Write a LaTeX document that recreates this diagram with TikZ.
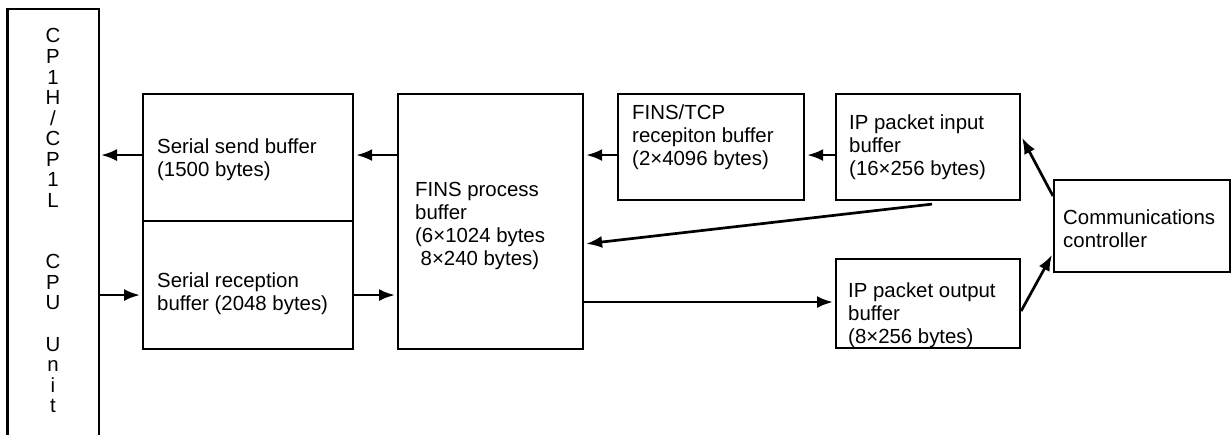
\documentclass[tikz,border=0pt]{standalone}
\usepackage{fontspec}
\setmainfont{Liberation Sans}
\usetikzlibrary{arrows.meta}
\tikzset{
  box/.style={draw, line width=2.1pt, rectangle, inner sep=0pt, anchor=north west},
  txt/.style={anchor=west, inner sep=0pt, align=left, font=\fontsize{20.4}{23}\selectfont},
  arr/.style={line width=2.7pt, -{Latex[length=16pt,width=12pt]}, shorten >=2pt}
}
\begin{document}
\begin{tikzpicture}[x=1pt,y=-1pt]
\useasboundingbox (0,0) rectangle (1231,434);
% CPU unit column (open at the bottom)
\draw[line width=2.1pt] (7.5,440) -- (7.5,9) -- (99,9) -- (99,440);
\coordinate (cpuR) at (99,0);
\node[anchor=north, inner sep=0pt, align=center, font=\fontsize{20.4}{20.54}\selectfont] (cpu) at (53,28.5)
  {C\\P\\1\\H\\/\\C\\P\\1\\L\\[41.1pt]C\\P\\U\\[20.5pt]U\\n\\i\\t};
% boxes
\node[box, minimum width=210pt, minimum height=127pt] (send) at (142,93) {};
\node[box, minimum width=210pt, minimum height=128pt] (recv) at (142,220) {};
\node[box, minimum width=185pt, minimum height=255pt] (fins) at (397,93) {};
\node[box, minimum width=186pt, minimum height=106pt] (fintcp) at (617,93) {};
\node[box, minimum width=184pt, minimum height=106pt] (ipin) at (835,93) {};
\node[box, minimum width=184pt, minimum height=89pt] (ipout) at (835,258) {};
\node[box, minimum width=176pt, minimum height=92pt] (comm) at (1053,179) {};
% texts
\node[txt] (tsend) at (157,160) {Serial send buffer\\(1500 bytes)};
\node[txt] (trecv) at (157,293.5) {Serial reception\\buffer (2048 bytes)};
\node[txt] (tfins) at (415,226.3) {FINS process\\buffer\\(6×1024 bytes\\\hspace*{5.5pt}8×240 bytes)};
\node[txt] (tfintcp) at (632,137) {FINS/TCP\\recepiton buffer\\(2×4096 bytes)};
\node[txt] (tipin) at (849,147.2) {IP packet input\\buffer\\(16×256 bytes)};
\node[txt] (tipout) at (848,314.8) {IP packet output\\buffer\\(8×256 bytes)};
\node[txt] (tcomm) at (1063,229) {Communications\\controller};
% connectors
\draw[arr] ([yshift=2.5pt]send.west) -- ([yshift=2.5pt]send.west -| cpuR);
\draw[arr] ([yshift=-10pt]recv.west -| cpuR) -- ([yshift=-10pt]recv.west);
\draw[arr] ([yshift=2.5pt]send.east -| fins.west) -- ([yshift=2.5pt]send.east);
\draw[arr] ([yshift=-10pt]recv.east) -- ([yshift=-10pt]recv.east -| fins.west);
\draw[arr] ([yshift=-8pt]fintcp.west) -- ([yshift=-8pt]fintcp.west -| fins.east);
\draw[arr] ([yshift=-8pt]ipin.west) -- ([yshift=-8pt]ipin.west -| fintcp.east);
\draw[arr] ([xshift=4pt,yshift=-3pt]ipin.south) -- ([yshift=-22.5pt]fins.east);
\draw[arr] ([yshift=-80.5pt]fins.east) -- ([yshift=-80.5pt]fins.east -| ipout.west);
\draw[arr] ([yshift=30pt]comm.west) -- ([yshift=11pt]ipin.east);
\draw[arr] ([yshift=-7.5pt]ipout.east) -- ([yshift=-27pt]comm.west);
\end{tikzpicture}
\end{document}
